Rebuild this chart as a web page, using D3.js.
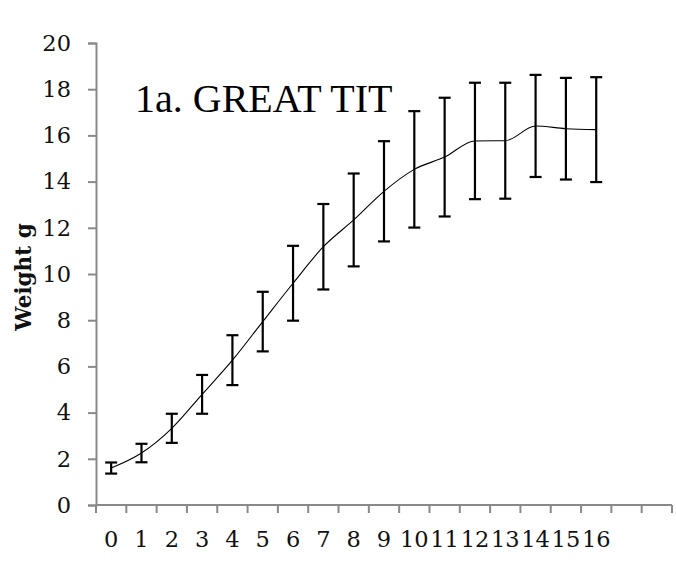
<!DOCTYPE html>
<html>
<head>
<meta charset="utf-8">
<script src="https://cdn.jsdelivr.net/npm/d3@7"></script>
<style>
  html, body { margin: 0; padding: 0; background: #fff; }
  svg { display: block; }
</style>
</head>
<body>
<div id="chart"></div>
<script>
// ---- data ----
const days = [0,1,2,3,4,5,6,7,8,9,10,11,12,13,14,15,16];
const weightMean = [1.6, 2.25, 3.32, 4.79, 6.27, 7.94, 9.6, 11.18, 12.34, 13.58, 14.53, 15.06, 15.76, 15.77, 16.41, 16.29, 16.25];
const weightErr  = [0.24, 0.4, 0.63, 0.84, 1.08, 1.29, 1.62, 1.85, 2.01, 2.17, 2.52, 2.57, 2.52, 2.51, 2.21, 2.2, 2.27];
const xSlots = ["0","1","2","3","4","5","6","7","8","9","10","11","12","13","14","15","16","",""];
const yTicks = [0,2,4,6,8,10,12,14,16,18,20];
const titleText = "1a. GREAT TIT";
const yTitle = "Weight g";

// ---- layout ----
const W = 676, H = 562;
const mLeft = 96, mRight = 672, mTop = 43, mBottom = 505;

const svg = d3.select("#chart").append("svg").attr("width", W).attr("height", H);

const x = d3.scaleBand().domain(xSlots.map((d, i) => i)).range([mLeft, mRight]).paddingInner(0).paddingOuter(0);
const y = d3.scaleLinear().domain([0, 20]).range([mBottom, mTop]);
const cx = i => x(i) + x.bandwidth() / 2;

const axisColor = "#898989";
const labelFont = "'DejaVu Serif', serif";
const labelSize = 22.5;

// Y axis
const yAxis = d3.axisLeft(y).tickValues(yTicks).tickSize(8).tickPadding(17).tickFormat(d3.format("d"));
const gy = svg.append("g").attr("transform", `translate(${mLeft},0)`).call(yAxis);
gy.select(".domain").attr("stroke", axisColor).attr("stroke-width", 2);
gy.selectAll(".tick line").attr("stroke", axisColor).attr("stroke-width", 2);
gy.selectAll(".tick text").attr("font-family", labelFont).attr("font-size", labelSize).attr("fill", "#111");

// X axis: baseline + ticks at band boundaries
const gx = svg.append("g");
gx.append("line").attr("x1", mLeft).attr("x2", mRight).attr("y1", y(0)).attr("y2", y(0))
  .attr("stroke", axisColor).attr("stroke-width", 2);
const boundaries = d3.range(xSlots.length + 1);
const bx = i => i < xSlots.length ? x(i) : x(xSlots.length - 1) + x.bandwidth();
gx.selectAll("line.tk").data(boundaries).join("line").attr("class", "tk")
  .attr("x1", bx).attr("x2", bx)
  .attr("y1", y(0)).attr("y2", y(0) + 8)
  .attr("stroke", axisColor).attr("stroke-width", 2);
gx.selectAll("text").data(xSlots).join("text")
  .attr("x", (d, i) => cx(i)).attr("y", y(0) + 42)
  .attr("text-anchor", "middle")
  .attr("font-family", labelFont).attr("font-size", labelSize).attr("fill", "#111")
  .text(d => d);

// Y title
svg.append("text")
  .attr("transform", `translate(31, ${(mTop + mBottom) / 2 + 3}) rotate(-90)`)
  .attr("text-anchor", "middle")
  .attr("font-family", labelFont).attr("font-weight", "bold").attr("font-size", 21.5).attr("fill", "#111")
  .text(yTitle);

// Line (smoothed)
const line = d3.line().x((d, i) => cx(i)).y(d => y(d)).curve(d3.curveMonotoneX);
svg.append("path").datum(weightMean).attr("d", line)
  .attr("fill", "none").attr("stroke", "#000").attr("stroke-width", 1.1);

// Error bars
const eb = svg.append("g").attr("stroke", "#000").attr("stroke-width", 2.2);
days.forEach((d, i) => {
  const m = weightMean[i], e = weightErr[i];
  const xc = cx(i);
  eb.append("line").attr("x1", xc).attr("x2", xc).attr("y1", y(m + e)).attr("y2", y(m - e));
  eb.append("line").attr("x1", xc - 6).attr("x2", xc + 6).attr("y1", y(m + e)).attr("y2", y(m + e));
  eb.append("line").attr("x1", xc - 6).attr("x2", xc + 6).attr("y1", y(m - e)).attr("y2", y(m - e));
});

// Title
svg.append("text").attr("x", 135).attr("y", 112)
  .attr("font-family", "'Liberation Serif', 'Times New Roman', Times, serif").attr("font-size", 40).attr("fill", "#000")
  .text(titleText);
</script>
</body>
</html>
